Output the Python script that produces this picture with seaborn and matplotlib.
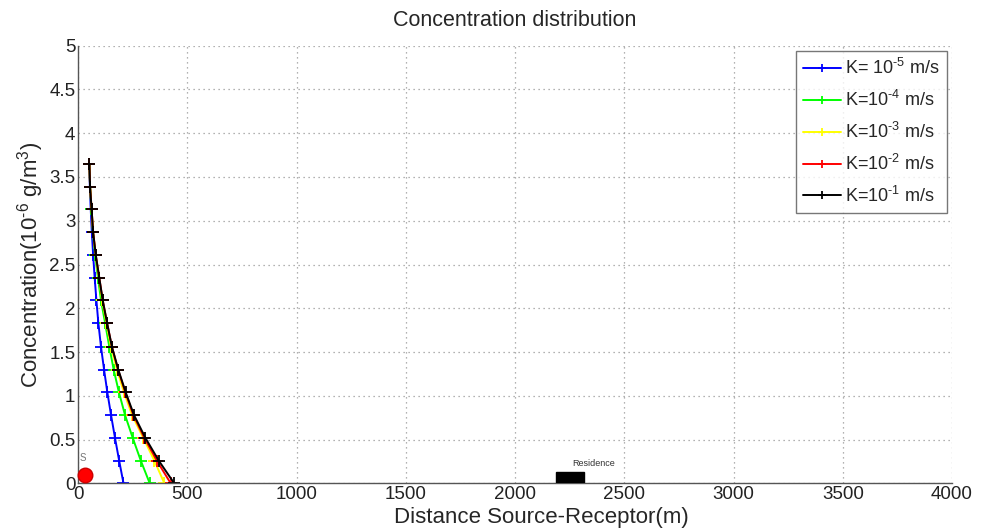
import matplotlib
matplotlib.use("Agg")
import matplotlib.pyplot as plt
import seaborn as sns
import pandas as pd
from matplotlib.ticker import FuncFormatter
from matplotlib.patches import Rectangle

# ---- data ----
conc = [3.65, 3.39, 3.13, 2.87, 2.61, 2.35, 2.09, 1.83, 1.56, 1.30, 1.04, 0.78, 0.52, 0.26, 0.0]
dist_k5 = [51, 54, 58, 63, 69, 76, 84, 93, 105, 119, 134, 151, 169, 188, 208]
dist_k4 = [52, 55, 61, 68, 78, 91, 105, 124, 143, 163, 187, 215, 250, 287, 328]
dist_k3 = [52, 55, 62, 69, 80, 95, 111, 130, 151, 178, 210, 247, 298, 349, 395]
dist_k2 = [52, 55, 62, 69, 81, 97, 113, 133, 155, 183, 216, 253, 303, 360, 424]
dist_k1 = [52, 55, 62, 69, 81, 97, 113, 133, 155, 184, 218, 256, 308, 369, 440]
labels = [r"K= $10^{\text{-5}}$ m/s", r"K=$10^{\text{-4}}$ m/s", r"K=$10^{\text{-3}}$ m/s",
          r"K=$10^{\text{-2}}$ m/s", r"K=$10^{\text{-1}}$ m/s"]
colors = ["#0000ff", "#00ff00", "#ffff00", "#ff0000", "#000000"]
source_x, source_y = [32], [0.10]
residence_x0, residence_x1, residence_h = 2186, 2316, 0.125
x_ticks = [0, 500, 1000, 1500, 2000, 2500, 3000, 3500, 4000]
y_ticks = [0, 0.5, 1, 1.5, 2, 2.5, 3, 3.5, 4, 4.5, 5]

rows = []
for lab, d in zip(labels, [dist_k5, dist_k4, dist_k3, dist_k2, dist_k1]):
    for xi, yi in zip(d, conc):
        rows.append({"dist": xi, "conc": yi, "K": lab})
df = pd.DataFrame(rows)

sns.set_theme(style="white")
plt.rcParams["font.family"] = ["Liberation Sans", "DejaVu Sans"]
plt.rcParams["mathtext.fontset"] = "custom"
plt.rcParams["mathtext.rm"] = "Liberation Sans"
plt.rcParams["mathtext.it"] = "Liberation Sans"
plt.rcParams["mathtext.bf"] = "Liberation Sans"

fig = plt.figure(figsize=(9.88, 5.29), dpi=100)
ax = fig.add_axes([0.079, 0.0864, 0.8846, 0.8272])

sns.lineplot(data=df, x="dist", y="conc", hue="K", palette=colors,
             hue_order=labels, sort=False, estimator=None, marker="+",
             markersize=8, markeredgewidth=1.3,
             linewidth=1.4, ax=ax, legend=True)
for line in ax.get_lines():
    line.set_markeredgecolor(line.get_color())

# source point and residence
ax.scatter(source_x, source_y, s=110, color="#ff0000", edgecolor="#cc0000",
           zorder=5, clip_on=False)
ax.text(source_x[0] - 8, source_y[0] + 0.13, "S", fontsize=7, color="#777777",
        ha="center", va="bottom")
ax.add_patch(Rectangle((residence_x0, 0), residence_x1 - residence_x0, residence_h,
                       facecolor="black", edgecolor="black", zorder=4))
ax.text(2360, 0.18, "Residence", fontsize=6.5, color="#333333", ha="center",
        va="bottom")

ax.set_xlim(0, 4000)
ax.set_ylim(0, 5)
ax.set_xticks(x_ticks)
ax.set_yticks(y_ticks)
ax.yaxis.set_major_formatter(FuncFormatter(lambda v, p: f"{v:g}"))
ax.tick_params(direction="in", length=4, labelsize=13.5, colors="#222222",
               pad=2)
ax.grid(True, linestyle=(0, (1, 3)), color="#999999", linewidth=0.9)
for s in ["top", "right"]:
    ax.spines[s].set_visible(False)
for s in ["left", "bottom"]:
    ax.spines[s].set_color("#555555")
    ax.spines[s].set_linewidth(1.0)

ax.set_title("Concentration distribution", fontsize=15.5, pad=14)
ax.set_xlabel("Distance Source-Receptor(m)", fontsize=16)
ax.xaxis.set_label_coords(0.53, -0.054)
ax.set_ylabel(r"Concentration(10$^{\text{-6}}$ g/m$^{3}$)", fontsize=16, labelpad=2)

leg = ax.legend(loc="upper right", fontsize=13, frameon=True, fancybox=False,
                edgecolor="#555555", handlelength=2.1, handletextpad=0.2,
                borderpad=0.4, labelspacing=0.65, borderaxespad=0.3)
leg.get_frame().set_linewidth(1.0)
for h in leg.get_lines():
    h.set_markersize(6)

fig.savefig("out.png", dpi=100)
